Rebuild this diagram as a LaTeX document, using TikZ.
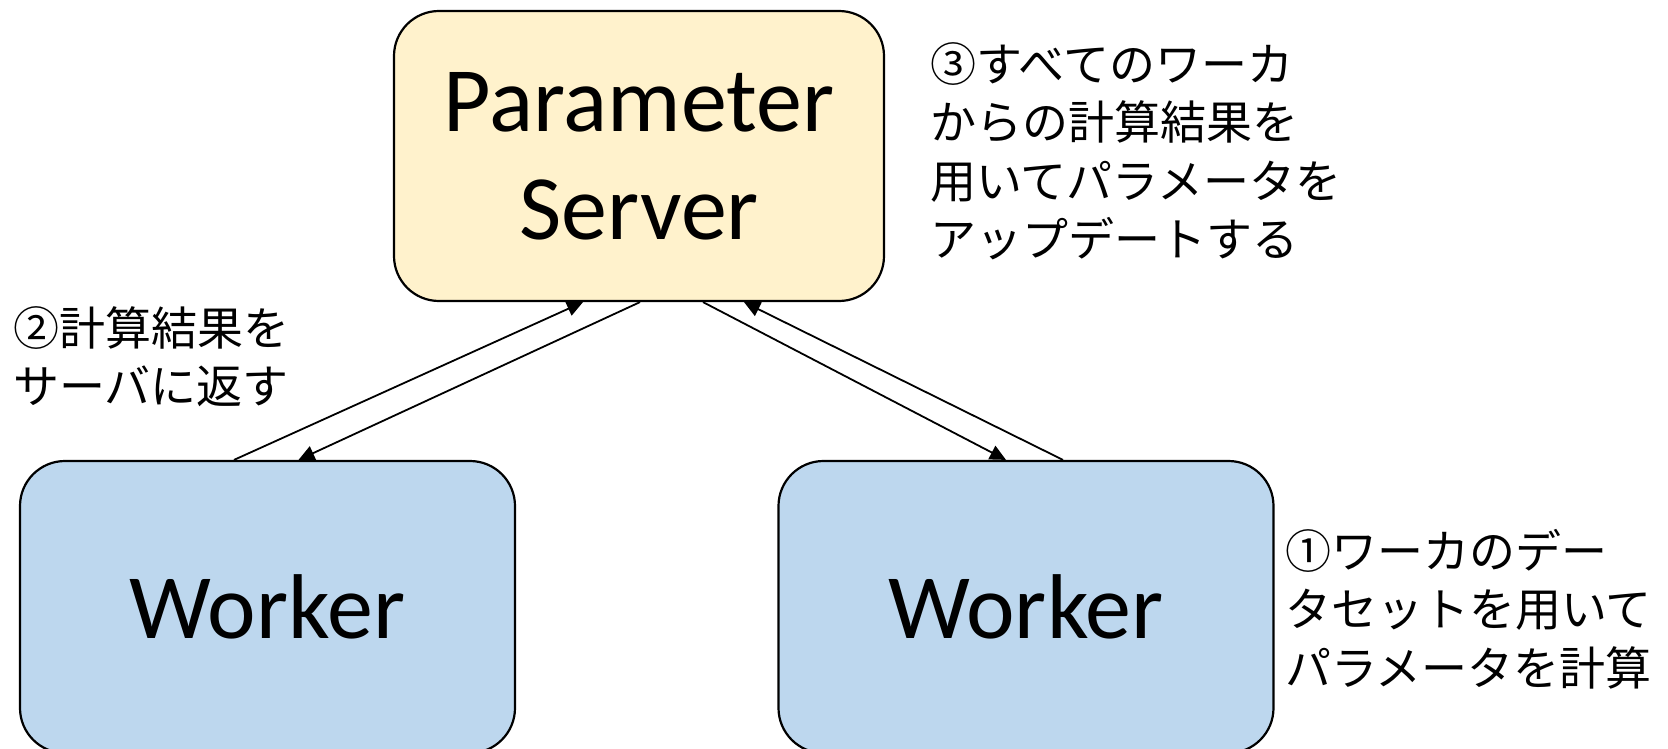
\documentclass[tikz,border=0pt]{standalone}
\usepackage{fontspec}
\setmainfont{Carlito}
\newfontfamily\jpfont{Noto Sans CJK JP}
\usetikzlibrary{arrows.meta}

\definecolor{serverfill}{HTML}{FFF2CC}
\definecolor{workerfill}{HTML}{BDD7EE}

\begin{document}
\begin{tikzpicture}[x=1pt,y=-1pt,
  box/.style={draw=black,line width=2.2pt,rounded corners=45pt,inner sep=0pt,
    align=center,font=\fontsize{92}{108}\selectfont},
  serverbox/.style={box,fill=serverfill,minimum width=490pt,minimum height=290pt},
  workerbox/.style={box,fill=workerfill,minimum width=495pt,minimum height=292pt},
  note/.style={anchor=north west,inner sep=0pt,align=left,
    font=\jpfont\fontsize{46}{58.5}\selectfont},
  link/.style={line width=1.8pt,-{Triangle[length=16pt,width=15pt]}}
]
\useasboundingbox (0,0) rectangle (1668,749);

% boxes
\node[serverbox] (ps) at (639,156) {Parameter\\Server};
\node[workerbox] (lw) at (267.5,607) {Worker};
\node[workerbox] (rw) at (1026,607) {Worker};

% step notes
\node[note] (n3) at (930,42) {③すべてのワーカ\\からの計算結果を\\用いてパラメータを\\アップデートする};
\node[note] (n2) at (13,306) {②計算結果を\\サーバに返す};
\node[note] (n1) at (1285,529) {①ワーカのデー\\タセットを用いて\\パラメータを計算};

% traffic between workers and server
\draw[link] ([xshift=-33.5pt]lw.north) -- ([xshift=-56pt]ps.south);
\draw[link] ([xshift=1pt]ps.south) -- ([xshift=31pt]lw.north);
\draw[link] ([xshift=64pt]ps.south) -- ([xshift=-20pt]rw.north);
\draw[link] ([xshift=37pt]rw.north) -- ([xshift=105pt]ps.south);
\end{tikzpicture}
\end{document}
